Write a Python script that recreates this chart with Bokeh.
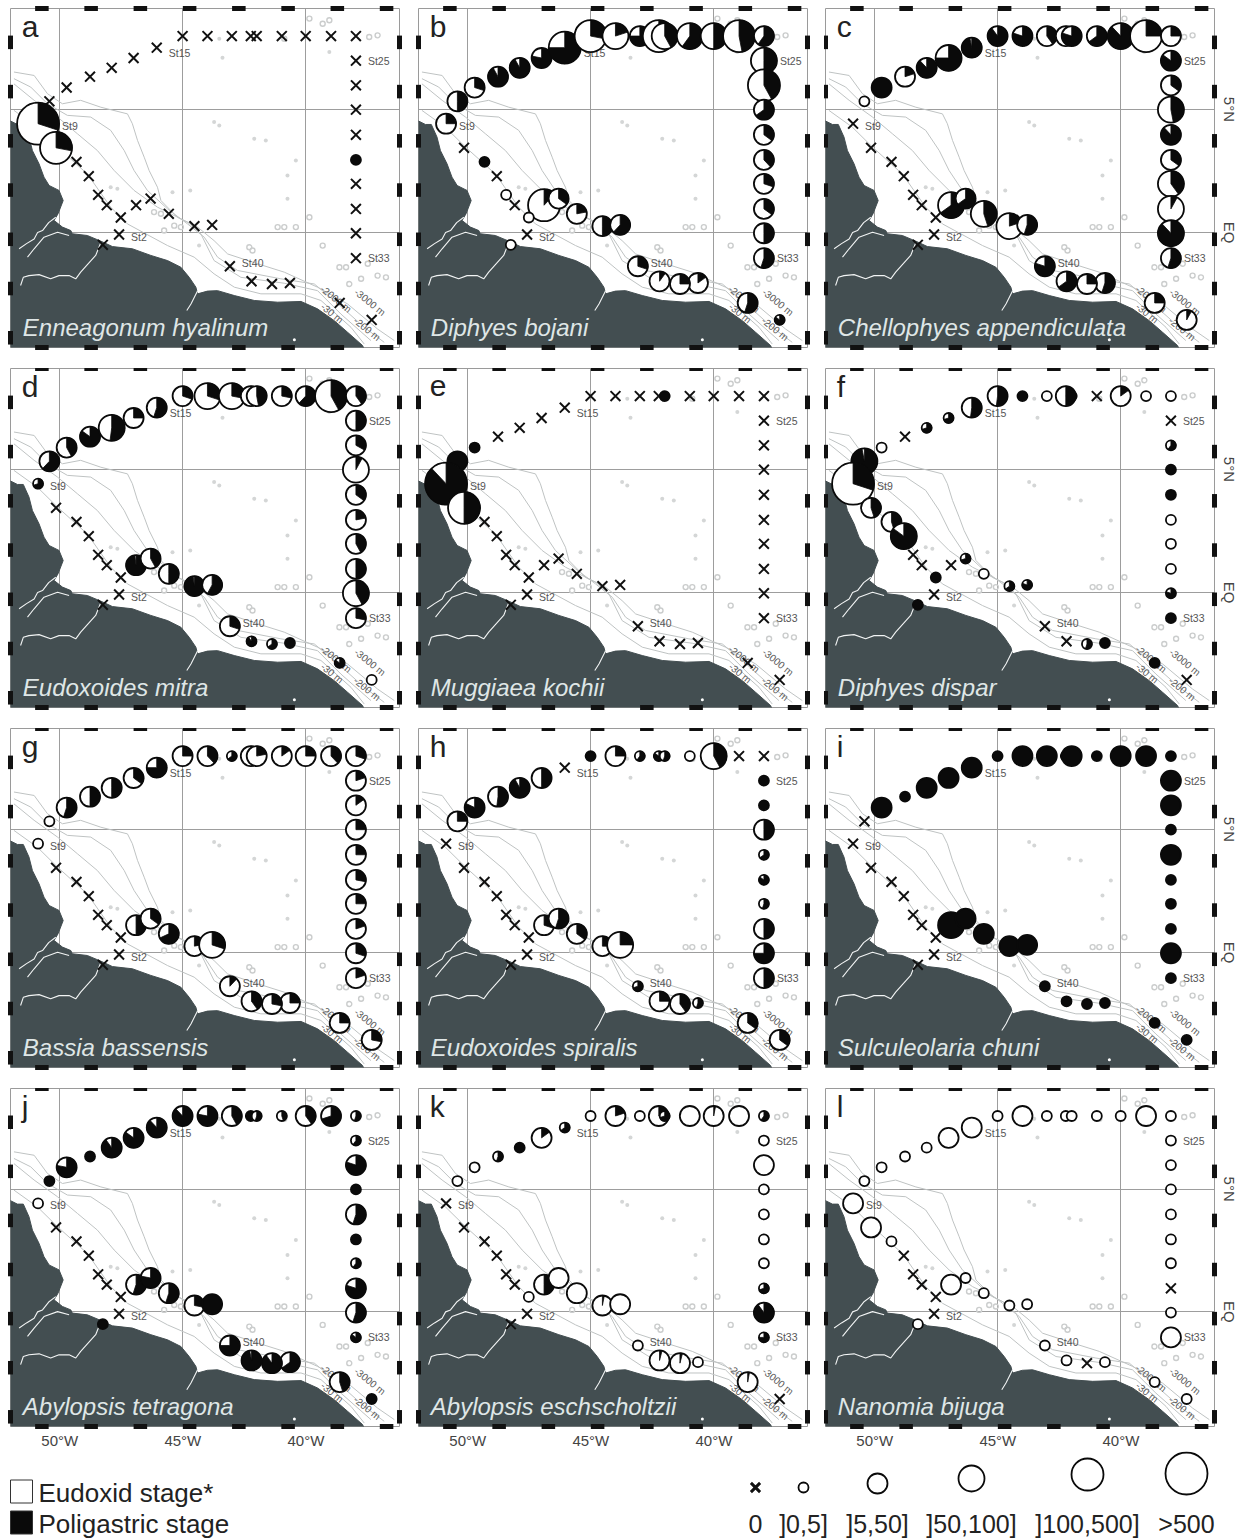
import math
import numpy as np
from bokeh.core.properties import value
from bokeh.embed import file_html
from bokeh.layouts import column, row
from bokeh.models import FixedTicker, Grid, LinearAxis
from bokeh.plotting import figure
from bokeh.resources import INLINE

# --- stations (lon, lat); order: northern transect, shelf diagonal, cross-shelf, south, east column
ST_LON = [-45.01, -44.00, -43.01, -42.24, -42.00, -40.98, -40.01, -38.98, -37.97,
          -46.06, -47.00, -47.89, -48.77, -49.72, -50.42,
          -50.88,
          -50.15, -49.32, -48.82, -48.44, -48.09, -47.52,
          -47.59, -48.25,
          -46.90, -46.31, -45.57, -44.53, -43.81,
          -43.09, -42.21, -41.38, -40.65, -38.63, -37.33,
          -37.97, -37.97, -37.97, -37.97, -37.97, -37.97, -37.97, -37.97, -37.97]
ST_LAT = [7.98, 7.98, 7.98, 7.98, 7.98, 7.98, 7.98, 7.98, 7.98,
          7.51, 7.09, 6.69, 6.33, 5.89, 5.33,
          4.42,
          3.44, 2.87, 2.29, 1.53, 1.11, 0.61,
          -0.08, -0.50,
          1.11, 1.38, 0.76, 0.26, 0.31,
          -1.37, -1.98, -2.09, -2.05, -2.86, -3.55,
          6.98, 5.98, 4.99, 3.97, 2.95, 1.98, 0.96, -0.03, -1.04]

# --- abundance class per station: 0 none, 1 ]0,5], 2 ]5,50], 3 ]50,100], 4 ]100,500], 5 >500
CLASS_A = [0,0,0,0,0,0,0,0,0, 0,0,0,0,0,0, 5, 4,0,0,0,0,0, 0, 0, 0,0,0,0,0, 0,0,0,0,0,0, 0,0,0,0,1,0,0,0,0]
CLASS_B = [4,3,2,4,3,3,3,4,2, 4,2,2,2,2,2, 2, 0,1,0,1,0,1, 0, 1, 4,2,2,2,2, 2,2,2,2,2,1, 3,4,2,2,2,2,2,2,2]
CLASS_C = [2,2,2,2,2,2,3,4,2, 2,3,2,2,2,1, 0, 0,0,0,0,0,0, 0, 0, 3,2,3,3,2, 2,2,2,2,2,2, 2,2,3,2,2,3,3,3,2]
CLASS_D = [2,3,3,2,2,2,2,4,2, 2,2,3,2,2,2, 1, 0,0,0,0,0,0, 0, 0, 2,2,2,2,2, 2,1,1,1,1,1, 2,2,3,2,2,2,2,3,2]
CLASS_E = [0,0,0,0,1,0,0,0,0, 0,0,0,0,1,2, 5, 4,0,0,0,0,0, 0, 0, 0,0,0,0,0, 0,0,0,0,0,0, 0,0,0,0,0,0,0,0,0]
CLASS_F = [2,1,1,2,1,0,2,1,1, 2,1,1,0,1,3, 5, 2,2,3,0,0,1, 0, 1, 0,1,1,1,1, 0,0,1,1,1,0, 0,1,1,1,1,1,1,1,1]
CLASS_G = [2,2,1,2,2,2,2,2,2, 2,2,2,2,2,1, 1, 0,0,0,0,0,0, 0, 0, 2,2,2,2,3, 2,2,2,2,2,2, 2,2,2,2,2,2,2,2,2]
CLASS_H = [1,2,1,1,1,1,3,0,0, 0,2,2,2,2,2, 0, 0,0,0,0,0,0, 0, 0, 2,2,2,2,3, 1,2,2,1,2,2, 1,1,2,1,1,1,2,2,2]
CLASS_I = [1,2,2,1,2,1,2,2,1, 2,2,2,1,2,0, 0, 0,0,0,0,0,0, 0, 0, 3,2,2,2,2, 1,1,1,1,1,1, 2,2,1,2,1,1,1,2,1]
CLASS_J = [2,2,2,1,1,1,2,2,1, 2,2,2,1,2,1, 1, 0,0,0,0,0,0, 0, 1, 2,2,2,2,2, 2,2,2,2,2,1, 1,2,1,2,1,1,2,2,1]
CLASS_K = [1,2,1,2,1,2,2,2,1, 1,2,1,1,1,1, 0, 0,0,0,0,0,1, 0, 0, 2,2,2,2,2, 1,2,2,1,2,0, 1,2,1,1,1,1,1,2,1]
CLASS_L = [1,2,1,1,1,1,1,2,1, 2,2,1,1,1,1, 2, 2,1,0,0,0,0, 0, 1, 2,1,1,1,1, 1,1,0,1,1,1, 1,1,1,1,1,1,0,1,2]

# --- percentage of the polygastric stage per station
POLY_A = [0,0,0,0,0,0,0,0,0, 0,0,0,0,0,0, 30, 28,0,0,0,0,0, 0, 0, 0,0,0,0,0, 0,0,0,0,0,0, 0,0,0,0,100,0,0,0,0]
POLY_B = [28,20,75,40,42,60,50,47,60, 75,78,92,92,30,50, 25, 0,100,0,0,0,0, 0, 0, 12,35,22,50,62, 30,10,25,15,55,85, 50,42,65,35,38,30,35,50,55]
POLY_C = [90,80,40,30,80,65,88,25,25, 97,75,88,20,100,0, 0, 0,0,0,0,0,0, 0, 0, 65,65,45,20,55, 80,65,25,55,25,8, 85,35,47,88,35,40,8,88,55]
POLY_D = [30,30,28,40,47,28,62,42,40, 55,25,52,85,42,62, 70, 0,0,0,0,0,0, 0, 0, 98,42,50,98,58, 30,90,65,100,85,0, 50,33,8,35,22,42,50,42,28]
POLY_E = [0,0,0,0,100,0,0,0,0, 0,0,0,0,100,100, 88, 50,0,0,0,0,0, 0, 0, 0,0,0,0,0, 0,0,0,0,0,0, 0,0,0,0,0,0,0,0,0]
POLY_F = [52,100,0,50,100,0,15,0,0, 52,70,70,0,0,97, 30, 45,45,85,0,0,100, 0, 100, 0,70,0,65,80, 0,0,55,100,100,0, 0,60,100,100,0,0,0,80,100]
POLY_G = [25,38,65,15,22,15,25,38,30, 75,35,50,50,55,0, 0, 0,0,0,0,0,0, 0, 0, 50,35,68,22,30, 12,40,28,25,25,28, 20,15,25,25,28,25,20,30,20]
POLY_H = [100,25,60,85,55,0,42,0,0, 0,50,92,52,82,25, 0, 0,0,0,0,0,0, 0, 0, 30,55,35,25,25, 70,25,40,55,35,35, 100,100,50,65,85,55,50,75,50]
POLY_I = [100,100,100,100,100,100,100,100,100, 100,100,100,100,100,0, 0, 0,0,0,0,0,0, 0, 0, 100,100,100,100,100, 100,100,100,100,100,100, 100,100,100,100,100,100,100,100,100]
POLY_J = [88,78,42,100,55,45,40,70,55, 88,85,90,100,78,100, 0, 0,0,0,0,0,0, 0, 100, 55,78,55,28,100, 75,97,90,65,45,100, 60,80,100,55,100,60,80,55,85]
POLY_K = [0,20,0,20,70,0,3,0,60, 65,15,100,55,0,0, 0, 0,0,0,0,0,0, 0, 0, 50,0,0,3,0, 0,4,4,0,3,0, 0,0,0,0,0,0,70,90,75]
POLY_L = [0,0,0,0,0,0,0,0,0, 0,0,0,0,0,0, 0, 0,0,0,0,0,0, 0, 0, 0,0,0,0,0, 0,0,0,0,0,0, 0,0,0,0,0,0,0,0,0]

PANEL_LETTERS = ["a", "b", "c", "d", "e", "f", "g", "h", "i", "j", "k", "l"]
SPECIES = ["Enneagonum hyalinum", "Diphyes bojani", "Chellophyes appendiculata",
           "Eudoxoides mitra", "Muggiaea kochii", "Diphyes dispar",
           "Bassia bassensis", "Eudoxoides spiralis", "Sulculeolaria chuni",
           "Abylopsis tetragona", "Abylopsis eschscholtzii", "Nanomia bijuga"]
CLASSES = [CLASS_A, CLASS_B, CLASS_C, CLASS_D, CLASS_E, CLASS_F, CLASS_G, CLASS_H, CLASS_I, CLASS_J, CLASS_K, CLASS_L]
POLYS = [POLY_A, POLY_B, POLY_C, POLY_D, POLY_E, POLY_F, POLY_G, POLY_H, POLY_I, POLY_J, POLY_K, POLY_L]

# --- labelled stations: name, station index, vertical nudge of the label
ST_NAMES = ["St2", "St9", "St15", "St25", "St33", "St40"]
ST_NAME_IDX = [22, 15, 9, 35, 43, 29]
ST_NAME_DY = [2, 2, 5, 0, 0, -3]

# --- map geometry
COAST_LON = [-52.1, -51.72, -51.48, -51.25, -51.11, -50.84, -50.64, -50.43, -50.03, -49.86, -50.07, -50.23,
             -49.89, -49.55, -49.49, -48.88, -48.33, -47.86, -47.05, -46.30, -45.62, -45.08, -44.74, -44.47,
             -44.40, -44.00, -43.59, -42.91, -42.10, -41.15, -40.20, -39.53, -38.85, -38.31, -37.70, -37.63, -52.1]
COAST_LAT = [4.58, 4.39, 4.39, 3.88, 3.33, 2.79, 2.25, 1.91, 1.71, 1.30, 0.76, 0.49,
             0.22, 0.08, -0.05, -0.12, -0.35, -0.57, -0.66, -0.93, -1.14, -1.41, -1.82, -2.22,
             -2.49, -2.38, -2.36, -2.56, -2.76, -2.83, -2.80, -3.10, -3.58, -4.05, -4.59, -4.75, -4.75]
RIVER_LON = [[-51.65, -51.35, -51.04, -50.90, -50.70, -50.45, -50.16],
             [-51.31, -51.04, -50.64, -50.09, -49.62],
             [-48.33, -48.54, -48.85, -49.15, -49.35, -49.62, -50.03, -50.37, -50.84, -51.25, -51.48, -51.59],
             [-44.40, -44.67, -44.84]]
RIVER_LAT = [[-0.66, -0.45, -0.26, 0.00, 0.08, 0.40, 0.62],
             [-1.00, -0.66, -0.19, 0.01, -0.12],
             [-0.40, -0.93, -1.27, -1.61, -1.88, -1.75, -1.75, -1.88, -1.71, -1.75, -1.82, -2.15],
             [-2.36, -2.90, -3.17]]
CONTOUR_LON = [[-51.86, -51.04, -50.50, -49.89, -49.15, -48.33, -47.25, -47.05, -46.84, -46.57, -46.37, -46.03,
                -45.89, -45.22, -44.40, -43.73, -43.18, -41.96, -40.88, -39.53, -38.31, -37.09, -36.41],
               [-51.86, -51.18, -50.50, -49.69, -48.74, -47.93, -47.38, -46.98, -46.44, -45.62, -44.81, -44.13,
                -43.59, -42.78, -41.02, -39.66, -38.85, -37.63, -36.82],
               [-51.86, -51.04, -50.09, -49.28, -48.47, -47.79, -46.98, -46.03, -44.81, -44.27, -43.73, -42.64,
                -40.88, -39.53, -38.58, -37.36],
               [-51.86, -50.91, -50.09, -48.88, -47.93, -47.25, -45.62, -44.54, -43.73, -42.91, -41.83, -40.20,
                -39.39, -38.17, -37.63]]
CONTOUR_LAT = [[6.52, 6.38, 5.64, 5.23, 5.37, 5.09, 4.82, 4.42, 3.74, 3.06, 2.52, 1.84,
                1.30, 0.62, 0.22, -0.33, -0.87, -1.27, -1.61, -2.22, -2.90, -3.92, -4.39],
               [6.25, 5.91, 5.23, 4.76, 4.69, 4.15, 3.33, 2.52, 1.71, 0.96, 0.35, -0.19,
                -1.00, -1.54, -1.88, -2.09, -2.76, -3.85, -4.46],
               [6.04, 5.37, 4.69, 4.01, 3.33, 2.52, 1.71, 1.03, 0.42, -0.05, -1.14, -1.82,
                -2.06, -2.36, -3.31, -4.39],
               [4.96, 4.28, 3.47, 2.38, 1.03, 0.35, -0.53, -1.00, -1.68, -2.22, -2.49, -2.49,
                -2.76, -3.85, -4.53]]
MOUNT_LON = [-43.73, -43.52, -42.10, -41.63, -40.41, -40.75, -40.75, -44.70, -45.42, -47.93, -47.66, -43.39, -39.05, -44.34, -43.52]
MOUNT_LAT = [4.49, 4.35, 3.81, 3.74, 2.93, 2.32, 1.37, 1.71, 1.64, 1.84, 1.78, 7.10, 7.33, -0.53, 7.87]
RING_LON = [-42.30, -42.17, -41.15, -40.88, -40.41, -39.86, -39.32, -38.64, -38.37, -38.24, -37.76, -37.09, -36.75,
            -37.49, -39.86, -39.32, -39.05, -40.88, -37.43, -37.09, -46.17, -45.89, -45.35, -45.76, -45.08]
RING_LAT = [-0.60, -0.73, 0.22, 0.22, 0.22, 0.62, -0.53, -1.41, -1.41, -2.09, -1.88, -1.75, -1.82,
            -1.27, 8.69, 8.48, 8.62, 7.87, 7.94, 8.01, 0.83, 0.76, 0.28, 0.08, 0.22]
DEPTH_TEXT = ["-2000 m", "-3000 m", "-30 m", "-200 m"]
DEPTH_LON = [-38.78, -37.40, -38.94, -37.52]
DEPTH_LAT = [-2.70, -2.83, -3.28, -3.92]
SPOT_LON = [-40.47]
SPOT_LAT = [-4.36]

LON_TICKS = [-50, -45, -40]
LON_TICK_TEXT = {-50: "50°W", -45: "45°W", -40: "40°W"}
LAT_TICKS = [0, 5]
LAT_TICK_TEXT = {0: "EQ", 5: "5°N"}

# --- legend
STAGE_LABELS = ["Eudoxid stage*", "Poligastric stage"]
SIZE_LABELS = ["0", "]0,5]", "]5,50]", "]50,100]", "]100,500]", ">500"]

# --- styling
DIAMETER = {1: 10, 2: 20, 3: 26, 4: 32, 5: 42}
LAND = "#434e51"
FONT = "Liberation Sans"
X_RANGE = (-52.0, -36.2)
Y_RANGE = (-4.67, 9.1)
LETTER_LON, LETTER_LAT = -51.54, 8.37
NAME_LON, NAME_LAT = -51.5, -3.84
# northernmost-west stations go first, so that later pies overlap earlier ones as in the paper
DRAW_ORDER = [14, 13, 12, 11, 10, 9] + list(range(0, 9)) + list(range(35, 44)) + \
             list(range(34, 28, -1)) + list(range(24, 29)) + list(range(15, 24))


def panel(idx):
    col = idx % 3
    rw = idx // 3
    left = [10, 2, 1][col]
    right = [17, 17, 26][col]
    top = 8 if rw == 0 else 0
    bottom = 24 if rw == 3 else 21
    p = figure(width=left + 389 + right, height=top + 339 + bottom, x_range=X_RANGE, y_range=Y_RANGE,
               x_axis_type=None, y_axis_type=None, toolbar_location=None, output_backend="svg",
               min_border_left=left, min_border_right=right, min_border_top=top, min_border_bottom=bottom,
               background_fill_color="white", border_fill_color="white",
               outline_line_color="#9a9a9a", outline_line_width=1)
    p.add_layout(Grid(dimension=0, ticker=FixedTicker(ticks=LON_TICKS), grid_line_color="#9d9d9d", grid_line_width=1))
    p.add_layout(Grid(dimension=1, ticker=FixedTicker(ticks=LAT_TICKS), grid_line_color="#9d9d9d", grid_line_width=1))
    if rw == 3:
        ax = LinearAxis(ticker=FixedTicker(ticks=LON_TICKS), major_label_overrides=LON_TICK_TEXT,
                        axis_line_color=None, major_tick_line_color=None, minor_tick_line_color=None,
                        major_tick_out=0, major_tick_in=0, minor_tick_out=0, minor_tick_in=0,
                        major_label_text_font=FONT, major_label_text_font_size="15px",
                        major_label_text_color="#444444", major_label_standoff=5)
        p.add_layout(ax, "below")
    if col == 2:
        ax = LinearAxis(ticker=FixedTicker(ticks=LAT_TICKS), major_label_overrides=LAT_TICK_TEXT,
                        axis_line_color=None, major_tick_line_color=None, minor_tick_line_color=None,
                        major_tick_out=0, major_tick_in=0, minor_tick_out=0, minor_tick_in=0,
                        major_label_text_font=FONT, major_label_text_font_size="15px",
                        major_label_text_color="#444444", major_label_standoff=6,
                        major_label_orientation="vertical")
        p.add_layout(ax, "right")

    # map
    p.multi_line(CONTOUR_LON, CONTOUR_LAT, line_color="#bfc3c3", line_width=1.0)
    p.scatter(MOUNT_LON, MOUNT_LAT, size=4, marker="circle", fill_color="#d4d6d6", line_color=None)
    p.scatter(RING_LON, RING_LAT, size=5, marker="circle", fill_color=None, line_color="#cbcdcd", line_width=1.4)
    p.patch(COAST_LON, COAST_LAT, fill_color=LAND, line_color=LAND)
    p.multi_line(RIVER_LON, RIVER_LAT, line_color="#f2f4f4", line_width=1.1)
    p.scatter(SPOT_LON, SPOT_LAT, size=3, marker="circle", fill_color="white", line_color=None)
    p.text(DEPTH_LON, DEPTH_LAT, text=DEPTH_TEXT, angle=-0.68, text_font=value(FONT), text_font_size="10px",
           text_color="#5a5a5a", text_align="center", text_baseline="middle")

    cls = CLASSES[idx]
    pol = POLYS[idx]

    # station labels slide outwards with the size of the pie they name
    for name, st, dy in zip(ST_NAMES, ST_NAME_IDX, ST_NAME_DY):
        r = DIAMETER.get(cls[st], 10) / 2
        p.text([ST_LON[st]], [ST_LAT[st]], text=[name], x_offset=max(12, r + 3), y_offset=dy,
               text_font=value(FONT), text_font_size="10.5px", text_color="#555555",
               text_align="left", text_baseline="middle")

    p.text([LETTER_LON], [LETTER_LAT], text=[PANEL_LETTERS[idx]], text_font=value(FONT), text_font_size="30px",
           text_color="#222222", text_baseline="middle")
    p.text([NAME_LON], [NAME_LAT], text=[SPECIES[idx]], text_font=value(FONT), text_font_size="24px",
           text_font_style="italic", text_color="#dfe6e6", text_baseline="middle")

    # stations
    for st in DRAW_ORDER:
        lon, lat = ST_LON[st], ST_LAT[st]
        c, share = cls[st], pol[st]
        if c == 0:
            p.scatter([lon], [lat], marker="x", size=14, line_color="#111111", line_width=2)
            continue
        d = DIAMETER[c]
        fill = "#0a0a0a" if share >= 100 else "white"
        p.scatter([lon], [lat], marker="circle", size=d, fill_color=fill, line_color="#0a0a0a", line_width=1.8)
        if 0 < share < 100:
            p.wedge([lon], [lat], radius=d / 2, radius_units="screen", start_angle=math.pi / 2,
                    end_angle=math.pi / 2 - 2 * math.pi * share / 100, direction="clock",
                    fill_color="#0a0a0a", line_color="#0a0a0a", line_width=0.8)

    # neatline
    lon0 = np.arange(-51, -36, 2)
    lat0 = np.arange(8, -5, -2)
    for yy in Y_RANGE:
        p.segment(lon0, yy, lon0 + 0.55, yy, line_color="#111111", line_width=5, level="overlay")
    for xx in X_RANGE:
        p.segment(xx, lat0, xx, lat0 - 0.55, line_color="#111111", line_width=5, level="overlay")
    return p


def legend():
    p = figure(width=1244, height=87, x_range=(0, 1244), y_range=(1538, 1451), x_axis_type=None, y_axis_type=None,
               toolbar_location=None, output_backend="svg", min_border=0, outline_line_color=None,
               background_fill_color="white", border_fill_color="white")
    p.grid.visible = False
    p.rect([21, 21], [1491, 1522], width=22, height=23, fill_color=["white", "#0a0a0a"], line_color="#333333", line_width=1)
    p.text([38, 38], [1492, 1523], text=STAGE_LABELS, text_font=value(FONT), text_font_size="26px",
           text_color="#222222", text_align="left", text_baseline="middle")
    xs = [755, 803, 877, 971, 1087, 1186]
    ys = [1487, 1487, 1483, 1478, 1474, 1473]
    p.scatter(xs[:1], ys[:1], marker="x", size=13, line_color="#111111", line_width=3)
    for x, y, k in zip(xs[1:], ys[1:], [1, 2, 3, 4, 5]):
        p.scatter([x], [y], marker="circle", size=DIAMETER[k], fill_color="white", line_color="#0a0a0a", line_width=1.8)
    p.text(xs, [1523] * 6, text=SIZE_LABELS, text_font=value(FONT), text_font_size="25px",
           text_color="#222222", text_align="center", text_baseline="middle")
    return p


figs = [panel(i) for i in range(12)]
rows = [row(figs[i:i + 3], spacing=0) for i in range(0, 12, 3)]
page = column(*rows, legend(), spacing=0)
open("out.html", "w").write(file_html(page, INLINE))
